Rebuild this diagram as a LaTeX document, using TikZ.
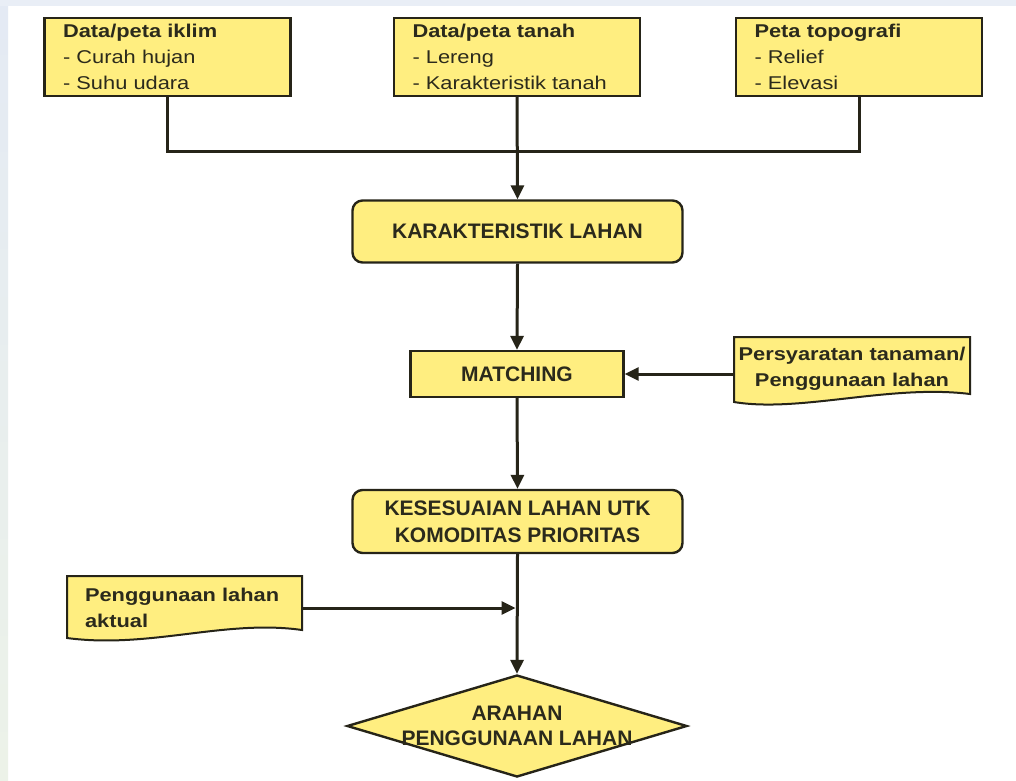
\documentclass[tikz,border=0pt]{standalone}
\usepackage{fontspec}
\setmainfont{Liberation Sans}
\newfontfamily\wf[FakeStretch=1.18]{Liberation Sans}
\usetikzlibrary{arrows.meta,shapes.geometric,backgrounds,calc}
\definecolor{boxfill}{HTML}{FFEE80}
\definecolor{ink}{HTML}{2B2A1C}
\definecolor{edge}{HTML}{262418}
\begin{document}
\begin{tikzpicture}[x=1pt,y=-1pt,
  every node/.style={text=ink},
  topbox/.style={draw=edge, line width=2.4pt, fill=boxfill, minimum width=246pt, minimum height=78pt, text width=209pt, inner xsep=18.5pt, inner ysep=0pt, align=left, font=\wf\fontsize{18.5}{26}\selectfont},
  capbox/.style={draw=edge, line width=2.4pt, fill=boxfill, inner sep=0pt, align=center, font=\fontsize{21}{27}\selectfont\bfseries},
  doctext/.style={inner sep=0pt, font=\wf\fontsize{18.5}{26}\selectfont\bfseries},
  docshape/.style={draw=edge, line width=2pt, fill=boxfill},
  conn/.style={draw=edge, line width=3pt},
  arr/.style={conn, -{Triangle[length=14pt,width=13pt]}}
]
\useasboundingbox (0,0) rectangle (1016,780);
\fill[white] (0,0) rectangle (1016,780);
\fill[color={rgb,255:red,233;green,238;blue,246}] (0,0) rectangle (1016,6);
\shade[top color={rgb,255:red,228;green,234;blue,244}, bottom color={rgb,255:red,236;green,242;blue,232}] (0,6) rectangle (8,780);

% top boxes
\node[topbox] (b1) at (167.5,57) {\textbf{Data/peta iklim}\\- Curah hujan\\- Suhu udara};
\node[topbox] (b2) at (517,57) {\textbf{Data/peta tanah}\\- Lereng\\- Karakteristik tanah};
\node[topbox] (b3) at (859,57) {\textbf{Peta topografi}\\- Relief\\- Elevasi};

% main chain
\node[capbox, rounded corners=10pt, minimum width=330pt, minimum height=62pt] (kl) at (517.5,231.5) {KARAKTERISTIK LAHAN};
\node[capbox, minimum width=213pt, minimum height=46pt] (mt) at (517,374) {MATCHING};
\node[capbox, rounded corners=10pt, minimum width=330pt, minimum height=63pt] (ks) at (517.5,521.5) {KESESUAIAN LAHAN UTK\\KOMODITAS PRIORITAS};
\node[diamond, draw=edge, line width=2.4pt, fill=boxfill, minimum width=340pt, minimum height=102pt, inner sep=0pt] (ar) at (517,726) {};
\node[inner sep=0pt, align=center, font=\fontsize{21}{25}\selectfont\bfseries] (art) at (ar.center) {ARAHAN\\PENGGUNAAN LAHAN};

% document shapes
\path[docshape] (734,337) -- (970,337) -- (970,394) .. controls (890,384) and (800,413) .. (734,402) -- cycle;
\node[doctext, align=center, minimum width=236pt] (ps) at (852,369) {Persyaratan tanaman/\\Penggunaan lahan};
\path[docshape] (67,576) -- (302,576) -- (302,630) .. controls (225,619) and (150,649) .. (67,638) -- cycle;
\node[doctext, align=left, text width=199pt, inner xsep=18pt, minimum height=58pt] (pa) at (184.5,608) {Penggunaan lahan\\aktual};

% connectors
\draw[conn] (b1.south) -- ++(0,54) -| (b3.south);
\draw[arr] (b2.south) -- (kl.north);
\draw[arr] (kl.south) -- (mt.north);
\draw[arr] (ps.west |- mt.east) -- (mt.east);
\draw[arr] (mt.south) -- (ks.north);
\draw[arr] (ks.south) -- (ar.north);
\coordinate (jn) at (ks.south |- pa.east);
\draw[arr, shorten >=2pt] (pa.east) -- (jn);
\end{tikzpicture}
\end{document}
